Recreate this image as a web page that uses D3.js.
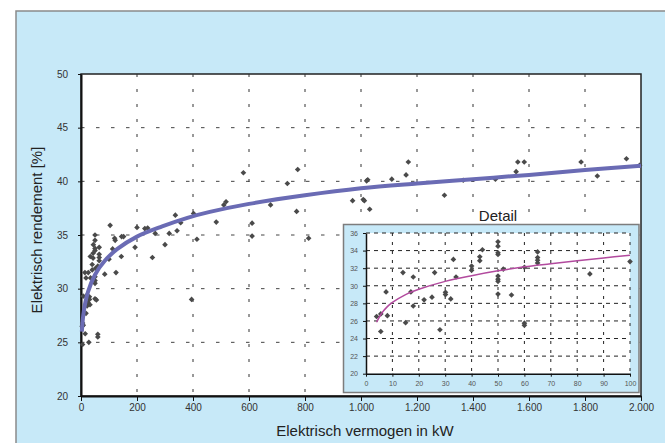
<!DOCTYPE html>
<html>
<head>
<meta charset="utf-8">
<script src="https://cdn.jsdelivr.net/npm/d3@7"></script>
<style>
    body { margin: 0; background: #fff; }
    text { font-family: "Liberation Sans", Arial, sans-serif; }
</style>
</head>
<body>
<svg id="chart" width="665" height="443"></svg>
<script>
// tick values
var mainTicksX = [0, 200, 400, 600, 800, 1000, 1200, 1400, 1600, 1800, 2000];
var mainTicksY = [20, 25, 30, 35, 40, 45, 50];
var detailTicksX = [0, 10, 20, 30, 40, 50, 60, 70, 80, 90, 100];
var detailTicksY = [20, 22, 24, 26, 28, 30, 32, 34, 36];

// installations up to 100 kW [kW, %] (shown in both charts)
var smallPlants = [
    [4.0, 26.5], [5.6, 26.8], [5.6, 24.8], [7.6, 29.3], [8.1, 26.6],
    [14.0, 31.5], [15.0, 25.8], [17.0, 29.3], [17.9, 31.0], [17.9, 27.7],
    [22.0, 28.4], [25.0, 28.7], [26.0, 31.5], [28.0, 25.0], [30.1, 29.25],
    [30.1, 29.0], [32.1, 28.5], [33.1, 33.0], [34.1, 31.0], [40.0, 32.25],
    [40.0, 31.75], [43.1, 33.3], [43.1, 32.85], [44.1, 34.1], [50.0, 35.0],
    [50.0, 34.5], [50.0, 33.75], [50.0, 33.55], [50.0, 31.1], [50.0, 30.75],
    [50.0, 30.5], [50.0, 29.05], [52.0, 31.9], [55.1, 28.95], [60.0, 32.1],
    [60.0, 25.75], [60.0, 25.5], [65.0, 33.85], [65.0, 33.2], [65.0, 32.9],
    [65.0, 32.6], [84.8, 31.35], [100.0, 32.75]
];

// installations above 100 kW [kW, %]
var largePlants = [
    [104, 35.9], [113, 33.7], [120, 34.7], [122, 34.5], [125, 31.5],
    [144, 33.0], [145, 34.85], [152, 34.85], [193, 33.85], [200, 35.7],
    [228, 35.6], [238, 35.65], [255, 32.9], [265, 35.15], [300, 34.1],
    [315, 35.15], [337, 36.85], [343, 35.4], [356, 36.15], [395, 29.0],
    [402, 37.0], [414, 34.6], [483, 36.2], [510, 37.8], [518, 38.1],
    [580, 40.8], [611, 36.1], [611, 34.9], [677, 37.8], [737, 39.8],
    [770, 37.2], [774, 41.1], [813, 34.7], [970, 38.2], [1008, 38.3],
    [1012, 38.2], [1020, 40.05], [1024, 40.15], [1031, 37.4], [1110, 40.2],
    [1161, 40.6], [1169, 41.8], [1298, 38.7], [1365, 40.1], [1480, 40.2],
    [1554, 40.9], [1560, 41.8], [1583, 41.8], [1786, 41.8], [1844, 40.5],
    [1948, 42.1], [1995, 41.5]
];

// trend lines [kW, %]
var trendMain = [
    [3, 26.0], [10, 27.9], [25, 29.7], [50, 31.3], [85, 32.6], [130, 33.7],
    [200, 34.85], [290, 35.8], [380, 36.6], [460, 37.15], [600, 37.9],
    [800, 38.7], [1000, 39.35], [1200, 39.8], [1400, 40.2], [1600, 40.6],
    [1800, 41.05], [2000, 41.45]
];
var trendDetail = [
    [4, 25.85], [6, 26.9], [8, 27.6], [10, 28.1], [15, 29.0], [20, 29.6],
    [30, 30.5], [40, 31.15], [50, 31.7], [60, 32.15], [70, 32.5],
    [80, 32.85], [90, 33.17], [100, 33.47]
];

var svg = d3.select('#chart');
var fmt = d3.formatLocale({decimal: ',', thousands: '.', grouping: [3], currency: ['', '']}).format(',');
var blue = '#c7e9f8';

// panel
svg.append('rect')
        .attr('x', 16).attr('y', 11)
        .attr('width', 660).attr('height', 440)
        .attr('fill', blue)
        .attr('stroke', '#8a8a8a')
        .attr('stroke-width', 1.5);

var x = d3.scaleLinear().domain([0, 2000]).range([81, 641]);
var y = d3.scaleLinear().domain([20, 50]).range([396, 74]);

var main = svg.append('g');

main.append('rect')
        .attr('x', x(0)).attr('y', y(50))
        .attr('width', x(2000) - x(0)).attr('height', y(20) - y(50))
        .attr('fill', '#fff')
        .attr('stroke', '#222')
        .attr('stroke-width', 1.5);

main.selectAll('.hgrid').data(mainTicksY.slice(1, -1)).enter().append('line')
        .attr('class', 'hgrid')
        .attr('x1', x(0)).attr('x2', x(2000))
        .attr('y1', function(d) {return y(d);})
        .attr('y2', function(d) {return y(d);})
        .attr('stroke', '#444')
        .attr('stroke-dasharray', '3.5,11.5');

main.selectAll('.vgrid').data(mainTicksX.slice(1, -1)).enter().append('line')
        .attr('class', 'vgrid')
        .attr('y1', y(50)).attr('y2', y(20))
        .attr('x1', function(d) {return x(d);})
        .attr('x2', function(d) {return x(d);})
        .attr('stroke', '#333')
        .attr('stroke-dasharray', '3,12');

var xAxis = main.append('g')
        .attr('transform', 'translate(0,' + y(20) + ')')
        .call(d3.axisBottom(x).tickValues(mainTicksX).tickSize(5).tickSizeOuter(0).tickFormat(fmt));
var yAxis = main.append('g')
        .attr('transform', 'translate(' + x(0) + ',0)')
        .call(d3.axisLeft(y).tickValues(mainTicksY).tickSize(3).tickSizeOuter(0));

[xAxis, yAxis].forEach(function(ax) {
    ax.select('.domain').attr('stroke', '#111').attr('stroke-width', 2);
    ax.selectAll('.tick line').attr('stroke', '#111');
    ax.selectAll('.tick text')
            .attr('font-family', '"Liberation Sans", Arial, sans-serif')
            .attr('font-size', 10)
            .attr('fill', '#333');
});
xAxis.selectAll('.tick text').attr('y', 8);
yAxis.selectAll('.tick text').attr('x', -13);

main.selectAll('.pt').data(smallPlants.concat(largePlants)).enter().append('path')
        .attr('class', 'pt')
        .attr('d', d3.symbol().type(d3.symbolSquare).size(16))
        .attr('fill', '#4a4a4a')
        .attr('transform', function(d) {return 'translate(' + x(d[0]) + ',' + y(d[1]) + ') rotate(45)';});

main.append('path')
        .datum(trendMain)
        .attr('d', d3.line().curve(d3.curveCatmullRom)
                .x(function(d) {return x(d[0]);})
                .y(function(d) {return y(d[1]);}))
        .attr('fill', 'none')
        .attr('stroke', '#6a6bb4')
        .attr('stroke-width', 4);

main.append('text')
        .attr('transform', 'translate(42,' + 230 + ') rotate(-90)')
        .attr('text-anchor', 'middle')
        .attr('font-size', 15)
        .attr('fill', '#222')
        .text('Elektrisch rendement [%]');

main.append('text')
        .attr('x', 365).attr('y', 436)
        .attr('text-anchor', 'middle')
        .attr('font-size', 15)
        .attr('fill', '#222')
        .text('Elektrisch vermogen in kW');

// detail inset
var xi = d3.scaleLinear().domain([0, 100]).range([366, 630]);
var yi = d3.scaleLinear().domain([20, 36]).range([373.7, 233]);
var detail = svg.append('g');

detail.append('text')
        .attr('x', 498).attr('y', 220.5)
        .attr('text-anchor', 'middle')
        .attr('font-size', 15)
        .attr('fill', '#222')
        .text('Detail');

detail.append('rect')
        .attr('x', 343.5).attr('y', 224.5)
        .attr('width', 295.5).attr('height', 168)
        .attr('fill', blue)
        .attr('stroke', '#7d7d7d')
        .attr('stroke-width', 1.5);

detail.append('rect')
        .attr('x', xi(0)).attr('y', yi(36))
        .attr('width', xi(100) - xi(0)).attr('height', yi(20) - yi(36))
        .attr('fill', '#fff');

detail.selectAll('.hgrid').data(detailTicksY.slice(1)).enter().append('line')
        .attr('class', 'hgrid')
        .attr('x1', xi(0)).attr('x2', xi(100))
        .attr('y1', function(d) {return yi(d);})
        .attr('y2', function(d) {return yi(d);})
        .attr('stroke', '#222')
        .attr('stroke-dasharray', '4,4');

detail.selectAll('.vgrid').data(detailTicksX.slice(1)).enter().append('line')
        .attr('class', 'vgrid')
        .attr('y1', yi(36)).attr('y2', yi(20))
        .attr('x1', function(d) {return xi(d);})
        .attr('x2', function(d) {return xi(d);})
        .attr('stroke', '#222')
        .attr('stroke-dasharray', '3,6');

var xiAxis = detail.append('g')
        .attr('transform', 'translate(0,' + yi(20) + ')')
        .call(d3.axisBottom(xi).tickValues(detailTicksX).tickSize(3).tickSizeOuter(0));
var yiAxis = detail.append('g')
        .attr('transform', 'translate(' + xi(0) + ',0)')
        .call(d3.axisLeft(yi).tickValues(detailTicksY).tickSize(3).tickSizeOuter(0));

[xiAxis, yiAxis].forEach(function(ax) {
    ax.select('.domain').attr('stroke', '#111').attr('stroke-width', 1.5);
    ax.selectAll('.tick line').attr('stroke', '#111');
    ax.selectAll('.tick text')
            .attr('font-family', '"Liberation Sans", Arial, sans-serif')
            .attr('font-size', 7)
            .attr('fill', '#555');
});
xiAxis.selectAll('.tick text').attr('y', 7);
yiAxis.selectAll('.tick text').attr('x', -8);

detail.selectAll('.pt').data(smallPlants).enter().append('path')
        .attr('class', 'pt')
        .attr('d', d3.symbol().type(d3.symbolSquare).size(16))
        .attr('fill', '#4a4a4a')
        .attr('transform', function(d) {return 'translate(' + xi(d[0]) + ',' + yi(d[1]) + ') rotate(45)';});

detail.append('path')
        .datum(trendDetail)
        .attr('d', d3.line().curve(d3.curveCatmullRom)
                .x(function(d) {return xi(d[0]);})
                .y(function(d) {return yi(d[1]);}))
        .attr('fill', 'none')
        .attr('stroke', '#b24a9e')
        .attr('stroke-width', 1.5);
</script>
</body>
</html>
